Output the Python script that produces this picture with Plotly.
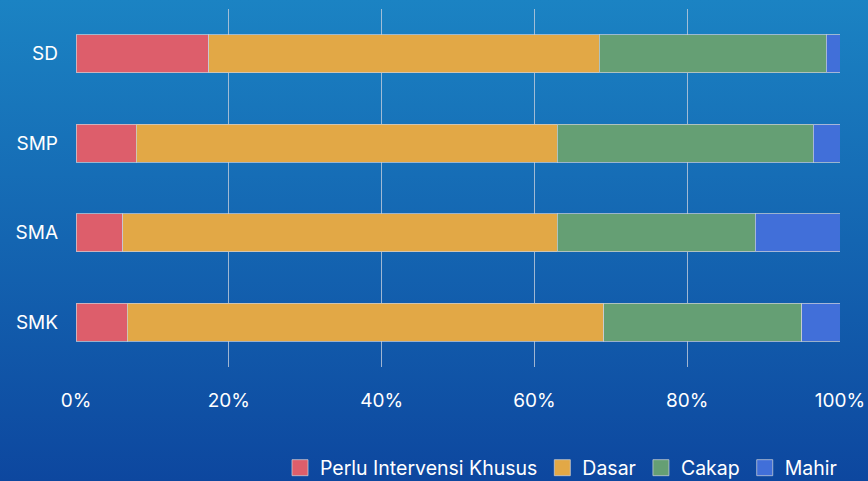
import base64

import plotly.graph_objects as go

# --- data (percent of students per level) ---
levels = ["SD", "SMP", "SMA", "SMK"]
series_names = ["Perlu Intervensi Khusus", "Dasar", "Cakap", "Mahir"]
perlu = [17.4, 7.9, 6.1, 6.7]
dasar = [51.1, 55.1, 56.9, 62.4]
cakap = [29.7, 33.5, 25.9, 25.9]
mahir = [1.8, 3.5, 11.1, 5.0]
x_ticks = [0, 20, 40, 60, 80, 100]
x_tick_labels = [f"{v}%" for v in x_ticks]

colors = ["#dd5e6b", "#e2a846", "#659f74", "#416fd9"]
W, H = 868, 481
M = dict(l=76, r=28, t=9, b=114)

# --- gradient background as svg ---
svg = (
    f'<svg xmlns="http://www.w3.org/2000/svg" width="{W}" height="{H}">'
    '<defs><linearGradient id="g" x1="0" y1="0" x2="0" y2="1">'
    '<stop offset="0" stop-color="#1b83c3"/>'
    '<stop offset="1" stop-color="#0d479f"/>'
    '</linearGradient></defs>'
    f'<rect width="{W}" height="{H}" fill="url(#g)"/></svg>'
)
bg_src = "data:image/svg+xml;base64," + base64.b64encode(svg.encode()).decode()

fig = go.Figure()
for name, vals, col in zip(series_names, [perlu, dasar, cakap, mahir], colors):
    fig.add_trace(go.Bar(
        y=levels, x=vals, name=name, orientation="h", legendgroup=name,
        showlegend=False,
        marker=dict(color=col, line=dict(color="rgba(200,205,215,0.75)", width=1)),
    ))
    # bigger square swatch for the legend
    fig.add_trace(go.Scatter(
        x=[None], y=[None], mode="markers", name=name, legendgroup=name,
        marker=dict(symbol="square", size=16, color=col,
                    line=dict(color="rgba(200,205,215,0.75)", width=1)),
    ))

pw = W - M["l"] - M["r"]
ph = H - M["t"] - M["b"]
fig.add_layout_image(
    source=bg_src, xref="paper", yref="paper",
    x=-M["l"] / pw, y=1 + M["t"] / ph,
    sizex=W / pw, sizey=H / ph,
    xanchor="left", yanchor="top", sizing="stretch", layer="below",
)

font_family = "Inter, Roboto, sans-serif"
fig.update_layout(
    width=W, height=H, margin=M,
    barmode="stack", bargap=0.575,
    paper_bgcolor="#145fb0", plot_bgcolor="rgba(0,0,0,0)",
    font=dict(family=font_family, color="white", size=18),
    legend=dict(
        orientation="h", xref="container", yref="container",
        x=1 - 26 / W, xanchor="right", y=13 / H, yanchor="middle",
        font=dict(size=19.5, color="white"), traceorder="normal",
        bgcolor="rgba(0,0,0,0)", itemwidth=30, itemsizing="trace",
    ),
)
fig.update_xaxes(
    range=[0, 100], tickvals=x_ticks, ticktext=x_tick_labels,
    showgrid=True, gridcolor="rgba(195,205,220,0.8)", gridwidth=1,
    zeroline=False, showline=False, ticks="", automargin=False,
    tickfont=dict(size=19, color="white"), ticklabelstandoff=20,
)
fig.update_yaxes(
    autorange="reversed", showgrid=False, ticks="", automargin=False,
    tickfont=dict(size=19, color="white"), ticklabelstandoff=17,
)

fig.write_html("out.html", config={"displayModeBar": False},
               post_script="document.body.style.margin='0';")
